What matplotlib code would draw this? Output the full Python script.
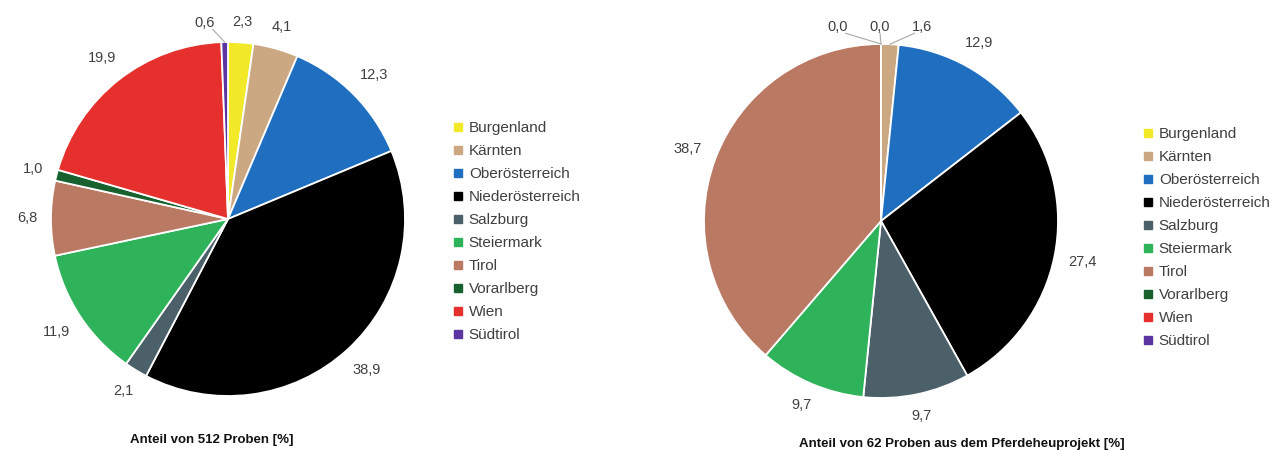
import numpy as np
import matplotlib
matplotlib.use("Agg")
import matplotlib.pyplot as plt
from matplotlib.lines import Line2D
from matplotlib import font_manager

# Data: share of samples per Austrian federal state (+ South Tyrol), in percent
regions = ["Burgenland", "Kärnten", "Oberösterreich", "Niederösterreich", "Salzburg",
           "Steiermark", "Tirol", "Vorarlberg", "Wien", "Südtirol"]
region_colors = ["#F2EA28", "#CBA882", "#1F6EBF", "#000000", "#4B6068",
                 "#2EB35A", "#BA7962", "#17612F", "#E5302D", "#5A34A0"]
share_all = [2.3, 4.1, 12.3, 38.9, 2.1, 11.9, 6.8, 1.0, 19.9, 0.6]
share_project = [0.0, 1.6, 12.9, 27.4, 9.7, 9.7, 38.7, 0.0, 0.0, 0.0]
title_all = "Anteil von 512 Proben [%]"
title_project = "Anteil von 62 Proben aus dem Pferdeheuprojekt [%]"

# Layout (pixels)
W, H, DPI = 1274, 450, 100
R_PX = 177          # pie radius in pixels
LIM = 1.3
GAP = 0.074         # distance from rim to label box
HH = 7 / R_PX       # half height of a label box
TEXT_GRAY = "#404040"

installed = {f.name for f in font_manager.fontManager.ttflist}
BASE_FONT = ["Liberation Sans", "DejaVu Sans"]
NARROW_FONT = (["Liberation Sans Narrow"] if "Liberation Sans Narrow" in installed else []) + BASE_FONT

plt.rcParams["font.family"] = BASE_FONT

fig = plt.figure(figsize=(W / DPI, H / DPI), dpi=DPI)
renderer = fig.canvas.get_renderer()


def fmt(v):
    return f"{v:.1f}".replace(".", ",")


def pie_axes(cx, cy):
    size = 2 * LIM * R_PX
    ax = fig.add_axes([(cx - size / 2) / W, 1 - (cy + size / 2) / H, size / W, size / H])
    return ax


def draw_pie(ax, values, leader_labels, hidden):
    wedges, _ = ax.pie(values, colors=region_colors, startangle=90, counterclock=False,
                       radius=1.0, wedgeprops=dict(edgecolor="white", linewidth=1.3))
    ax.set_xlim(-LIM, LIM)
    ax.set_ylim(-LIM, LIM)
    ax.axis("off")
    for name, v, w in zip(regions, values, wedges):
        if name in hidden:
            continue
        mid = np.deg2rad((w.theta1 + w.theta2) / 2)
        c, s = np.cos(mid), np.sin(mid)
        t = ax.text(0, 0, fmt(v), ha="center", va="center", fontsize=10.5,
                    color=TEXT_GRAY, clip_on=False)
        hw = t.get_window_extent(renderer).width / 2 / R_PX
        if name in leader_labels:
            dx, dy = leader_labels[name]
            lx, ly = dx / R_PX, dy / R_PX
            t.set_position((lx, ly))
            # leader line from the lower corner of the label towards the wedge
            sx = lx + np.sign(c - lx) * hw * 0.75 if abs(lx) > 0.05 else lx
            sy = ly - HH * 0.9
            ax.plot([sx, c], [sy, s], color="#A8A8A8", lw=0.8, clip_on=False)
        else:
            d = 1 + GAP + abs(c) * hw + abs(s) * HH
            t.set_position((d * c, d * s))


ax_left = pie_axes(228, 219)
draw_pie(ax_left, share_all, {"Südtirol": (-23, 196)}, set())

ax_right = pie_axes(881, 221)
draw_pie(ax_right, share_project,
         {"Südtirol": (-43, 194), "Burgenland": (-1, 194), "Kärnten": (41, 194)},
         {"Vorarlberg", "Wien"})

handles = [Line2D([0], [0], marker="s", linestyle="", markersize=5.5,
                  markerfacecolor=col, markeredgecolor=col) for col in region_colors]


def add_legend(x_px, yc_px):
    fig.legend(handles, regions, loc="center left",
               bbox_to_anchor=(x_px / W, 1 - yc_px / H), frameon=False,
               fontsize=11, labelcolor=TEXT_GRAY, handlelength=0.8,
               handletextpad=0.3, labelspacing=0.59, borderpad=0, borderaxespad=0)


add_legend(452, 231.5)
add_legend(1142, 237.5)

fig.text(212 / W, 1 - 440 / H, title_all, ha="center", va="center",
         fontsize=9.5, fontweight="bold", family=NARROW_FONT, color="#111111")
fig.text(962 / W, 1 - 444 / H, title_project, ha="center", va="center",
         fontsize=9.5, fontweight="bold", family=NARROW_FONT, color="#111111")

fig.savefig("out.png", dpi=DPI)
